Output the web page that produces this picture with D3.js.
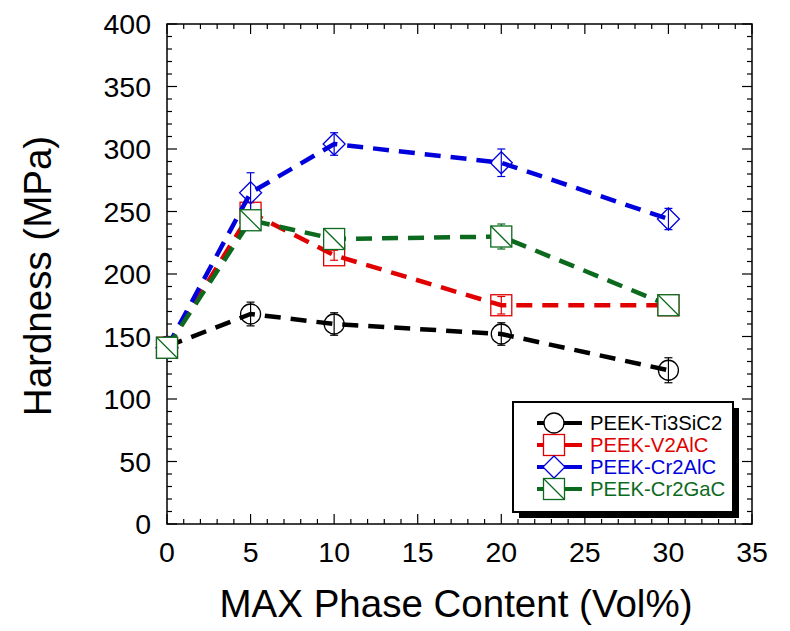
<!DOCTYPE html>
<html><head><meta charset="utf-8">
<script src="https://cdn.jsdelivr.net/npm/d3@7"></script>
<style>
html,body{margin:0;padding:0;background:#fff;}
text{font-family:"Liberation Sans",Arial,Helvetica,sans-serif;}
</style></head>
<body><svg id="c" width="790" height="631"></svg>
<script>
const xValues = [0, 5, 10, 20, 30];
const seriesNames = ["PEEK-Ti3SiC2", "PEEK-V2AlC", "PEEK-Cr2AlC", "PEEK-Cr2GaC"];
const seriesColors = ["#000000", "#e00000", "#0000dd", "#0b6a1e"];
const seriesMarkers = ["circle", "square", "diamond", "squareSlash"];
const ti3sic2 = [142, 168, 160, 152, 123];
const ti3sic2Err = [0, 9.5, 9, 9, 10];
const v2alc = [141, 249, 215, 175, 175];
const v2alcErr = [0, 8, 4, 7, 3];
const cr2alc = [141, 265, 304, 289, 244];
const cr2alcErr = [0, 16, 9, 11, 8.5];
const cr2gac = [141, 243, 228, 230, 175];
const cr2gacErr = [0, 3, 3, 10, 2];
const xTicks = [0, 5, 10, 15, 20, 25, 30, 35];
const yTicks = [0, 50, 100, 150, 200, 250, 300, 350, 400];

const values = [ti3sic2, v2alc, cr2alc, cr2gac];
const errors = [ti3sic2Err, v2alcErr, cr2alcErr, cr2gacErr];

const svg = d3.select("#c");
const L = 167, R = 752, T = 24, B = 524;
const x = d3.scaleLinear().domain([0, 35]).range([L, R]);
const y = d3.scaleLinear().domain([0, 400]).range([B, T]);

// frame
svg.append("rect").attr("x", L).attr("y", T).attr("width", R - L).attr("height", B - T)
  .attr("fill", "none").attr("stroke", "#000").attr("stroke-width", 1.5);

// ticks (inward, mirrored)
const xMinor = d3.range(0, 35.001, 1);
const yMinor = d3.range(0, 400.001, 10);
const tg = svg.append("g").attr("stroke", "#000").attr("stroke-width", 1.2);
xMinor.forEach(v => {
  const len = (v % 5 === 0) ? 10 : 5;
  tg.append("line").attr("x1", x(v)).attr("x2", x(v)).attr("y1", B).attr("y2", B - len);
  tg.append("line").attr("x1", x(v)).attr("x2", x(v)).attr("y1", T).attr("y2", T + len);
});
yMinor.forEach(v => {
  const len = (v % 50 === 0) ? 10 : 5;
  tg.append("line").attr("y1", y(v)).attr("y2", y(v)).attr("x1", L).attr("x2", L + len);
  tg.append("line").attr("y1", y(v)).attr("y2", y(v)).attr("x1", R).attr("x2", R - len);
});

// tick labels
svg.append("g").selectAll("text").data(xTicks).join("text")
  .attr("x", d => x(d)).attr("y", 562).attr("text-anchor", "middle")
  .attr("font-size", 28.5).text(d => d);
svg.append("g").selectAll("text").data(yTicks).join("text")
  .attr("x", 151).attr("y", d => y(d)).attr("dy", "0.36em").attr("text-anchor", "end")
  .attr("font-size", 28.5).text(d => d);

// axis titles
svg.append("text").attr("x", 456).attr("y", 617).attr("text-anchor", "middle")
  .attr("font-size", 38.5).text("MAX Phase Content (Vol%)");
svg.append("text").attr("transform", "translate(51,276) rotate(-90)")
  .attr("text-anchor", "middle").attr("font-size", 38.5).text("Hardness (MPa)");

function drawMarker(g, type, cx, cy, color, fill) {
  const s = 10.5;
  if (type === "circle") {
    g.append("circle").attr("cx", cx).attr("cy", cy).attr("r", 10)
      .attr("fill", fill).attr("stroke", color).attr("stroke-width", 1.3);
  } else if (type === "square" || type === "squareSlash") {
    g.append("rect").attr("x", cx - s).attr("y", cy - s).attr("width", 2 * s).attr("height", 2 * s)
      .attr("fill", fill).attr("stroke", color).attr("stroke-width", 1.3);
    if (type === "squareSlash") {
      g.append("line").attr("x1", cx - s).attr("y1", cy - s).attr("x2", cx + s).attr("y2", cy + s)
        .attr("stroke", color).attr("stroke-width", 1.3);
    }
  } else if (type === "diamond") {
    const d = 11;
    g.append("path").attr("d", `M${cx},${cy - d}L${cx + d},${cy}L${cx},${cy + d}L${cx - d},${cy}Z`)
      .attr("fill", fill).attr("stroke", color).attr("stroke-width", 1.3);
  }
}

const line = d3.line().x((d, i) => x(xValues[i])).y(d => y(d));
const plot = svg.append("g");
values.forEach((vals, si) => {
  const col = seriesColors[si];
  const g = plot.append("g");
  const opaque = si === 3;
  const lineSel = () => g.append("path").datum(vals).attr("d", line).attr("fill", "none")
    .attr("stroke", col).attr("stroke-width", 4.5).attr("stroke-dasharray", "16,10");
  if (opaque) lineSel();
  // error bars
  vals.forEach((v, i) => {
    const e = errors[si][i];
    if (e > 0) {
      const cx = x(xValues[i]);
      g.append("line").attr("x1", cx).attr("x2", cx).attr("y1", y(v - e)).attr("y2", y(v + e))
        .attr("stroke", col).attr("stroke-width", 1.2);
      [v - e, v + e].forEach(w => g.append("line").attr("x1", cx - 4).attr("x2", cx + 4)
        .attr("y1", y(w)).attr("y2", y(w)).attr("stroke", col).attr("stroke-width", 1.2));
    }
  });
  vals.forEach((v, i) => drawMarker(g, seriesMarkers[si], x(xValues[i]), y(v), col, opaque ? "#fff" : "none"));
  if (!opaque) lineSel();
});

// legend
const lg = svg.append("g");
lg.append("rect").attr("x", 519).attr("y", 408).attr("width", 220).attr("height", 110).attr("fill", "#000");
lg.append("rect").attr("x", 513).attr("y", 402).attr("width", 220).attr("height", 110)
  .attr("fill", "#fff").attr("stroke", "#000").attr("stroke-width", 2);
seriesNames.forEach((name, i) => {
  const ry = 423 + i * 22;
  const col = seriesColors[i];
  lg.append("line").attr("x1", 537).attr("x2", 582).attr("y1", ry).attr("y2", ry)
    .attr("stroke", col).attr("stroke-width", 4);
  drawMarker(lg, seriesMarkers[i], 554, ry, col, "#fff");
  lg.append("text").attr("x", 590).attr("y", ry).attr("dy", "0.36em").attr("font-size", 20.3)
    .attr("fill", col).text(name);
});
</script></body></html>
